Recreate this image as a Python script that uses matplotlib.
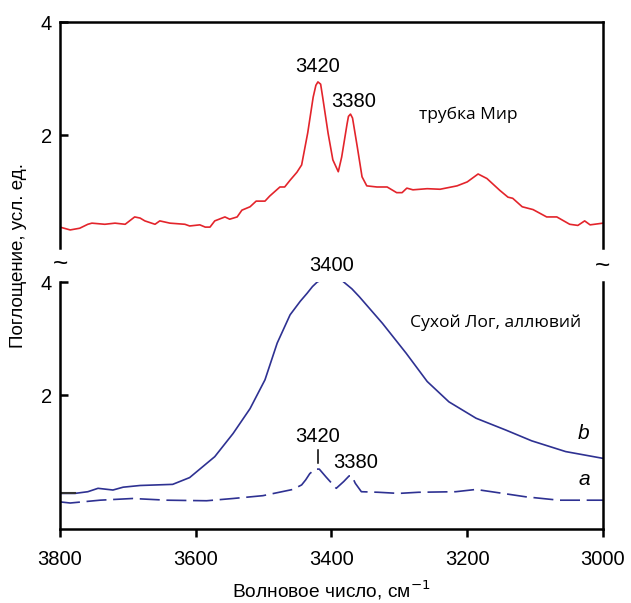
import numpy as np
import matplotlib
matplotlib.use("Agg")
import matplotlib.pyplot as plt

plt.rcParams['font.family'] = ['Liberation Sans', 'DejaVu Sans']

# top panel: трубка Мир (red)
mir_wn = [3800, 3785, 3771, 3759, 3753, 3734, 3719, 3704, 3690, 3682, 3675, 3660,
          3653, 3638, 3616, 3609, 3594, 3586, 3579, 3572, 3557, 3550, 3539, 3532,
          3520, 3511, 3498, 3491, 3476, 3469, 3461, 3451, 3444, 3435, 3427, 3423,
          3420, 3416, 3413, 3405, 3398, 3390, 3385, 3377, 3375, 3372, 3369, 3362,
          3355, 3348,
          3333, 3318, 3304, 3296, 3289, 3280, 3259, 3240, 3215, 3200, 3184, 3171,
          3152, 3140, 3133, 3119, 3103, 3083, 3068, 3049, 3037, 3027, 3019, 3000]
mir_abs = [0.37, 0.32, 0.35, 0.42, 0.44, 0.42, 0.44, 0.42, 0.55, 0.53, 0.48, 0.42,
           0.48, 0.44, 0.42, 0.39, 0.41, 0.37, 0.37, 0.48, 0.55, 0.51, 0.55, 0.67,
           0.73, 0.83, 0.83, 0.92, 1.08, 1.08, 1.20, 1.34, 1.47, 2.04, 2.67, 2.88,
           2.94, 2.90, 2.67, 2.03, 1.56, 1.35, 1.61, 2.20, 2.33, 2.37, 2.30, 1.79,
           1.26, 1.10,
           1.08, 1.08, 0.98, 0.98, 1.06, 1.03, 1.05, 1.04, 1.10, 1.17, 1.31, 1.23,
           1.02, 0.90, 0.88, 0.73, 0.68, 0.55, 0.55, 0.42, 0.40, 0.48, 0.41, 0.44]

# bottom panel: Сухой Лог, аллювий, curve b (solid)
b_wn = [3800, 3778, 3759, 3744, 3722, 3707, 3682, 3634, 3609, 3572, 3545, 3520,
        3498, 3480, 3461, 3446, 3436, 3428, 3421, 3410, 3398, 3385, 3370, 3359,
        3325, 3290, 3259, 3227, 3187, 3143, 3105, 3055, 3000]
b_abs = [0.26, 0.26, 0.29, 0.35, 0.32, 0.37, 0.40, 0.42, 0.54, 0.91, 1.32, 1.76,
         2.27, 2.92, 3.42, 3.66, 3.80, 3.92, 4.00, 4.06, 4.08, 4.03, 3.88, 3.74,
         3.27, 2.74, 2.24, 1.88, 1.59, 1.38, 1.19, 1.00, 0.88]

# curve a (dashed)
a_wn = [3800, 3785, 3741, 3693, 3643, 3584, 3545, 3501, 3457, 3444, 3438, 3432,
        3424, 3418, 3408, 3393, 3382, 3374, 3370, 3365, 3356, 3331, 3301, 3272,
        3217, 3187, 3153, 3114, 3065, 3000]
a_abs = [0.11, 0.09, 0.14, 0.17, 0.14, 0.13, 0.17, 0.22, 0.33, 0.41, 0.50, 0.61,
         0.69, 0.69, 0.55, 0.35, 0.47, 0.57, 0.57, 0.44, 0.29, 0.28, 0.26, 0.28,
         0.29, 0.33, 0.27, 0.20, 0.14, 0.14]

xticks = [3800, 3600, 3400, 3200, 3000]
yticks = [2, 4]

red = '#e3242b'
blue = '#2e3192'
spw = 1.8

fig = plt.figure(figsize=(6.31, 6.03), dpi=100)
ax1 = fig.add_axes([0.0951, 0.5887, 0.8605, 0.3748])
ax2 = fig.add_axes([0.0951, 0.1227, 0.8605, 0.4096])

# top panel
ax1.plot(mir_wn, mir_abs, color=red, lw=1.2)
ax1.set_xlim(3800, 3000)
ax1.set_ylim(0, 4)
ax1.spines['bottom'].set_visible(False)
ax1.set_xticks([])
ax1.set_yticks(yticks)
ax1.tick_params(axis='y', direction='in', length=6, width=spw, labelsize=14.5, pad=6)
ax1.text(3421, 3.05, '3420', ha='center', va='bottom', fontsize=14.5)
ax1.text(3368, 2.42, '3380', ha='center', va='bottom', fontsize=14.5)
ax1.text(3199, 2.35, 'трубка Мир', ha='center', va='center', fontsize=12.5,
         family=['Open Sans', 'DejaVu Sans'])

# bottom panel
ax2.plot(b_wn, b_abs, color=blue, lw=1.2)
ax2.plot(b_wn[:2], b_abs[:2], color='#333333', lw=1.5)
ax2.plot(a_wn, a_abs, color=blue, lw=1.2, linestyle=(0, (12, 4)))
ax2.set_xlim(3800, 3000)
ax2.set_ylim(-0.37, 4)
ax2.spines['top'].set_visible(False)
ax2.set_xticks(xticks)
ax2.set_yticks(yticks)
ax2.tick_params(axis='y', direction='in', length=6, width=spw, labelsize=14.5, pad=6)
ax2.tick_params(axis='x', direction='out', length=6, width=spw, labelsize=14.5, pad=9)
ax2.text(3400, 4.12, '3400', ha='center', va='bottom', fontsize=14.5)
ax2.text(3158, 3.28, 'Сухой Лог, аллювий', ha='center', va='center', fontsize=12.6,
         family=['Open Sans', 'DejaVu Sans'])
ax2.text(3420, 1.09, '3420', ha='center', va='bottom', fontsize=14.5)
ax2.plot([3420, 3420], [0.8, 1.02], color='black', lw=1.1)
ax2.text(3364, 0.64, '3380', ha='center', va='bottom', fontsize=14.5)
ax2.text(3028, 1.32, 'b', ha='center', va='center', fontsize=15, style='italic')
ax2.text(3028, 0.50, 'a', ha='center', va='center', fontsize=15, style='italic')
ax2.set_xlabel('Волновое число, см$^{-1}$', fontsize=13.8, labelpad=7)

for ax in (ax1, ax2):
    for s in ax.spines.values():
        s.set_linewidth(spw)

# break marks
fig.text(0.0951, 1 - 264 / 603, '~', ha='center', va='center', fontsize=19)
fig.text(0.9556, 1 - 266 / 603, '~', ha='center', va='center', fontsize=19)

fig.text(0.030, 1 - 255 / 603, 'Поглощение, усл. ед.', rotation=90,
         ha='center', va='center', fontsize=13.5)

fig.savefig('out.png', dpi=100)
